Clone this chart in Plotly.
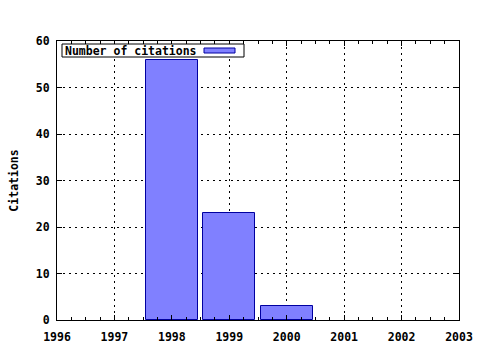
import plotly.graph_objects as go

years = [1998, 1999, 2000]
citations = [56, 23, 3]
series_name = "Number of citations"
x_ticks = [1996, 1997, 1998, 1999, 2000, 2001, 2002, 2003]
y_ticks = [0, 10, 20, 30, 40, 50, 60]

FONT = dict(family="DejaVu Sans Mono", size=11.5, color="black", weight="bold")

L, R, T, B = 57, 459, 41, 320
W, H = 480, 350

def px(x):
    return (x - L) / (R - L)

def py(y):
    return (B - y) / (B - T)

fig = go.Figure()
fig.add_trace(go.Bar(
    x=years, y=citations, width=0.9, name=series_name,
    marker=dict(color="#8080ff", line=dict(color="#0000a0", width=1)),
    showlegend=False,
))

axis_common = dict(
    showline=True, linecolor="black", linewidth=1, mirror="ticks",
    ticks="inside", ticklen=5, tickcolor="black", tickwidth=1,
    showgrid=True, gridcolor="black", gridwidth=1, griddash="2px,4px",
    zeroline=False, tickfont=FONT, automargin=False,
)

fig.update_xaxes(range=[1996, 2003], tickvals=x_ticks, ticktext=[str(v) for v in x_ticks],
                 ticklabelstandoff=6,
                 minor=dict(dtick=0.25, tick0=1996, ticks="inside", ticklen=3, tickcolor="black", showgrid=False),
                 **axis_common)
fig.update_yaxes(range=[0, 60], tickvals=y_ticks, ticktext=[str(v) for v in y_ticks],
                 ticklabelstandoff=4,
                 title=dict(text="Citations", font=FONT, standoff=14), **axis_common)

# legend box (gnuplot style: text then sample)
fig.add_shape(type="rect", xref="paper", yref="paper", x0=px(62), x1=px(244), y0=py(57), y1=py(44),
              fillcolor="white", line=dict(color="black", width=1))
fig.add_shape(type="rect", xref="paper", yref="paper", x0=px(204), x1=px(235), y0=py(53), y1=py(48),
              fillcolor="#8080ff", line=dict(color="#0000a0", width=1))
fig.add_annotation(xref="paper", yref="paper", x=px(63), y=py(50.5), xanchor="left", yanchor="middle",
                   text=series_name, showarrow=False, font=FONT)

fig.update_layout(
    width=W, height=H, margin=dict(l=L, r=W - R, t=T, b=H - B, autoexpand=False),
    paper_bgcolor="white", plot_bgcolor="white", font=FONT, bargap=0,
)
fig.write_html("out.html")
